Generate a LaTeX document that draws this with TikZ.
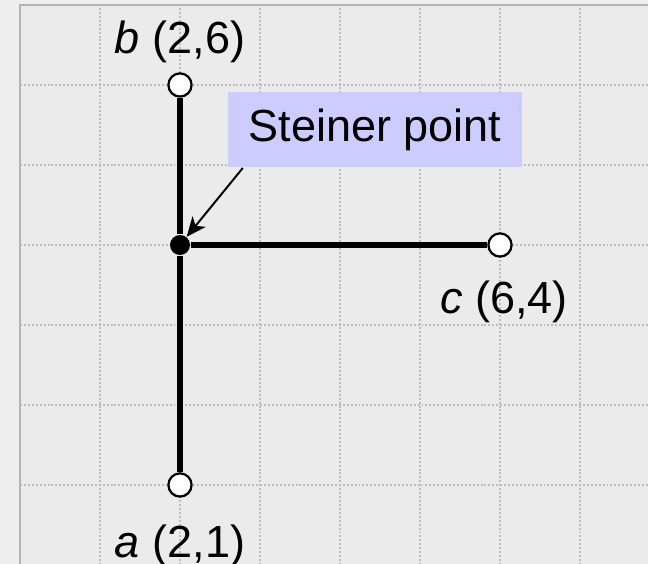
\documentclass[tikz,border=0pt]{standalone}
\usepackage{fontspec}
\setmainfont{Liberation Sans}
\usepackage{tikz}
\usetikzlibrary{arrows.meta, positioning, calc}
\usepackage{xcolor}
\definecolor{outerbg}{HTML}{EEEEEE}
\definecolor{panelbg}{HTML}{EBEBEB}
\definecolor{framegray}{HTML}{B4B4B4}
\definecolor{gridgray}{HTML}{BDBDBD}

\begin{document}
\begin{tikzpicture}[
        vertex/.style={circle, draw, fill=white, line width=0.8pt, minimum size=0.29cm, inner sep=0pt},
        steiner/.style={circle, fill=black, minimum size=0.25cm, inner sep=0pt},
        lbl/.style={font=\fontsize{16}{19}\selectfont},
        seg/.style={line width=2pt},
        arr/.style={-{Stealth[length=7pt, width=6pt, inset=2pt]}, line width=0.7pt},
        note/.style={fill=blue!20, minimum width=3.675cm, minimum height=0.94cm, inner sep=0pt, font=\fontsize{16}{19}\selectfont},
    ]
        % Canvas
        \useasboundingbox (-0.25, 0.0125) rectangle (7.85, 7.0625);
        \clip (-0.25, 0.0125) rectangle (7.85, 7.0625);
        \fill[outerbg] (-0.25, 0.0125) rectangle (7.85, 7.0625);
        \fill[panelbg] (0, 0) rectangle (8, 7);
        \draw[gridgray, line width=0.6pt, dash pattern=on 0.7pt off 0.7pt] (0, 0) grid (8, 7);
        \draw[framegray, line width=0.9pt] (0, 0) -- (0, 7) -- (8, 7);

        % Terminals
        \node[vertex] (a) at (2, 1) {};
        \node[lbl] (alab) at (2, 0.24) {\textit{a} (2,1)};

        \node[vertex] (b) at (2, 6) {};
        \node[lbl] (blab) at (2, 6.54) {\textit{b} (2,6)};

        \node[vertex] (c) at (6, 4) {};
        \node[lbl] (clab) at (6.05, 3.29) {\textit{c} (6,4)};

        % Steiner point
        \node[steiner] (s) at (2, 4) {};
        \node[note] (sp) at (4.44, 5.44) {Steiner point};

        % Edges
        \draw[seg] (b) -- (s);
        \draw[seg] (s) -- (a);
        \draw[seg] (s) -- (c);
        \draw[arr] ($(sp.south west)+(0.19, 0)$) -- (s);
    \end{tikzpicture}
\end{document}
